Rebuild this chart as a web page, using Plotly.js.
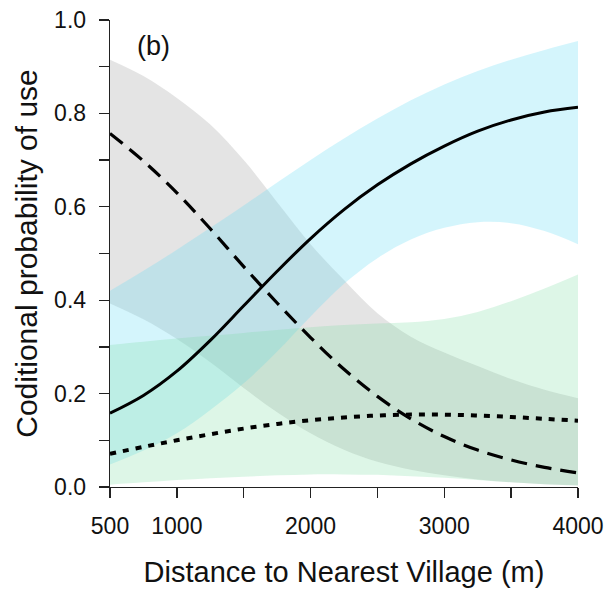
<!DOCTYPE html>
<html>
<head>
<meta charset="utf-8">
<script src="https://cdn.plot.ly/plotly-3.0.1.min.js"></script>
<style>html,body{margin:0;padding:0;background:#fff;}#chart{width:608px;height:590px;}</style>
</head>
<body>
<div id="chart"></div>
<script>
// Distance to nearest village (m)
const distance = [500, 750, 1000, 1250, 1500, 1750, 2000, 2250, 2500, 2750, 3000, 3250, 3500, 3750, 4000];

// Solid line + its CI (blue)
const solidMean  = [0.158, 0.196, 0.248, 0.314, 0.388, 0.462, 0.532, 0.594, 0.647, 0.692, 0.730, 0.762, 0.786, 0.803, 0.813];
const solidUpper = [0.420, 0.463, 0.508, 0.555, 0.603, 0.652, 0.700, 0.746, 0.789, 0.828, 0.862, 0.891, 0.915, 0.936, 0.955];
const solidLower = [0.048, 0.078, 0.115, 0.165, 0.222, 0.290, 0.365, 0.435, 0.490, 0.530, 0.555, 0.567, 0.565, 0.548, 0.520];

// Dashed line + its CI (grey)
const dashMean  = [0.757, 0.698, 0.630, 0.553, 0.472, 0.394, 0.320, 0.252, 0.194, 0.146, 0.108, 0.079, 0.058, 0.042, 0.030];
const dashUpper = [0.915, 0.880, 0.833, 0.776, 0.700, 0.610, 0.520, 0.443, 0.372, 0.322, 0.288, 0.259, 0.231, 0.208, 0.190];
const dashLower = [0.393, 0.359, 0.317, 0.267, 0.212, 0.160, 0.115, 0.080, 0.054, 0.037, 0.025, 0.016, 0.010, 0.006, 0.004];

// Dotted line + its CI (green)
const dotMean  = [0.071, 0.086, 0.100, 0.113, 0.125, 0.135, 0.143, 0.149, 0.153, 0.155, 0.155, 0.153, 0.150, 0.146, 0.142];
const dotUpper = [0.304, 0.311, 0.318, 0.324, 0.330, 0.336, 0.342, 0.347, 0.350, 0.353, 0.360, 0.375, 0.398, 0.425, 0.455];
const dotLower = [0.005, 0.010, 0.015, 0.019, 0.022, 0.025, 0.027, 0.027, 0.026, 0.023, 0.020, 0.015, 0.010, 0.006, 0.003];

const xTickVals = [500, 1000, 1500, 2000, 2500, 3000, 3500, 4000];
const xTickText = ['500', '1000', '', '2000', '', '3000', '', '4000'];
const yTickVals = [0, 0.1, 0.2, 0.3, 0.4, 0.5, 0.6, 0.7, 0.8, 0.9, 1.0];
const yTickText = ['0.0', '', '0.2', '', '0.4', '', '0.6', '', '0.8', '', '1.0'];

function band(lower, upper, color) {
  return [
    {x: distance, y: lower, mode: 'lines', line: {width: 0, shape: 'spline'}, hoverinfo: 'skip', showlegend: false},
    {x: distance, y: upper, mode: 'lines', line: {width: 0, shape: 'spline'}, fill: 'tonexty', fillcolor: color, hoverinfo: 'skip', showlegend: false}
  ];
}

const traces = [].concat(
  band(dashLower, dashUpper, 'rgba(150,150,150,0.26)'),
  band(solidLower, solidUpper, 'rgba(100,220,245,0.28)'),
  band(dotLower, dotUpper, 'rgba(120,220,160,0.25)'),
  [
    {x: distance, y: dashMean, mode: 'lines', line: {color: '#000', width: 3.2, dash: '16px,9px', shape: 'spline'}, showlegend: false},
    {x: distance, y: dotMean, mode: 'lines', line: {color: '#000', width: 4, dash: '6px,7px', shape: 'spline'}, showlegend: false},
    {x: distance, y: solidMean, mode: 'lines', line: {color: '#000', width: 3, shape: 'spline'}, showlegend: false}
  ]
);

const font = {family: 'Liberation Sans, Arial, sans-serif', color: '#111'};

const layout = {
  width: 608, height: 590,
  margin: {l: 110, r: 30, t: 20, b: 103},
  paper_bgcolor: '#fff', plot_bgcolor: '#fff',
  showlegend: false,
  font: Object.assign({size: 23}, font),
  xaxis: {
    range: [500, 4000], showgrid: false, zeroline: false,
    showline: true, linecolor: '#222', linewidth: 1.3,
    ticks: 'outside', ticklen: 10, tickwidth: 1.3, tickcolor: '#222',
    tickvals: xTickVals, ticktext: xTickText, ticklabelstandoff: 8,
    tickfont: Object.assign({size: 23}, font),
    title: {text: 'Distance to Nearest Village (m)', font: Object.assign({size: 29}, font), standoff: 23}
  },
  yaxis: {
    range: [0, 1], showgrid: false, zeroline: false,
    showline: true, linecolor: '#222', linewidth: 1.3,
    ticks: 'outside', ticklen: 10, tickwidth: 1.3, tickcolor: '#222',
    tickvals: yTickVals, ticktext: yTickText, ticklabelstandoff: 8,
    tickfont: Object.assign({size: 23}, font),
    title: {text: 'Coditional probability of use', font: Object.assign({size: 30}, font), standoff: 7}
  },
  annotations: [{
    text: '(b)', xref: 'paper', yref: 'paper', x: 0.053, y: 0.945,
    xanchor: 'left', yanchor: 'middle', showarrow: false,
    font: Object.assign({size: 27}, font)
  }]
};

Plotly.newPlot('chart', traces, layout, {displayModeBar: false, staticPlot: true});
</script>
</body>
</html>
